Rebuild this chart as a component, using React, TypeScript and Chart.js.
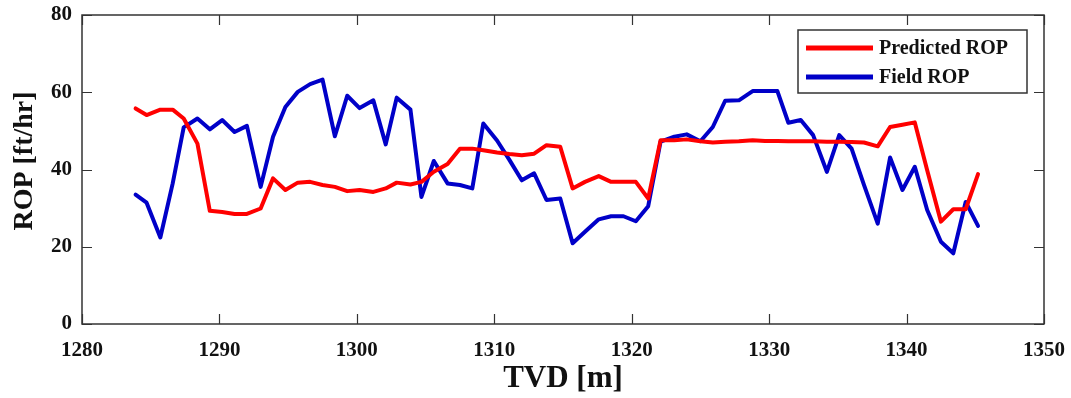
import React, { useEffect, useRef } from "react";
import { Chart, registerables } from "chart.js";

Chart.register(...registerables);

const tvd = [
  1283.9, 1284.7, 1285.7, 1286.6, 1287.4, 1288.4, 1289.3, 1290.2, 1291.1, 1292.0,
  1293.0, 1293.9, 1294.8, 1295.7, 1296.6, 1297.5, 1298.4, 1299.3, 1300.2, 1301.2,
  1302.1, 1302.9, 1303.9, 1304.7, 1305.6, 1306.6, 1307.5, 1308.4, 1309.2, 1310.2,
  1311.1, 1312.0, 1312.9, 1313.8, 1314.8, 1315.7, 1316.6, 1317.6, 1318.5, 1319.4,
  1320.3, 1321.2, 1322.1, 1323.1, 1324.0, 1325.0, 1325.9, 1326.8, 1327.8, 1328.8,
  1329.7, 1330.6, 1331.4, 1332.3, 1333.2, 1334.2, 1335.1, 1336.0, 1336.9, 1337.9,
  1338.8, 1339.7, 1340.6, 1341.5, 1342.5, 1343.4, 1344.3, 1345.2,
];

const predictedROP = [
  55.8, 54.1, 55.5, 55.5, 53.2, 46.7, 29.3, 29.0, 28.5, 28.5,
  29.9, 37.7, 34.7, 36.6, 36.8, 36.0, 35.5, 34.4, 34.7, 34.2,
  35.1, 36.6, 36.1, 36.8, 39.4, 41.4, 45.4, 45.4, 45.0, 44.4,
  44.0, 43.7, 44.1, 46.3, 45.9, 35.1, 36.8, 38.3, 36.8, 36.8,
  36.8, 32.5, 47.6, 47.6, 47.8, 47.3, 47.0, 47.2, 47.3, 47.6,
  47.4, 47.4, 47.3, 47.3, 47.3, 47.2, 47.2, 47.1, 47.0, 46.0,
  51.0, 51.6, 52.2, 39.8, 26.5, 29.7, 29.7, 38.8,
];

const fieldROP = [
  33.5, 31.4, 22.4, 36.4, 50.9, 53.2, 50.4, 52.8, 49.7, 51.3,
  35.5, 48.5, 56.2, 60.1, 62.1, 63.3, 48.6, 59.1, 55.9, 57.9,
  46.5, 58.6, 55.5, 32.9, 42.2, 36.4, 36.0, 35.1, 51.9, 47.5,
  42.5, 37.2, 39.0, 32.1, 32.5, 20.9, 23.9, 27.1, 27.9, 27.9,
  26.6, 30.5, 47.2, 48.5, 49.1, 47.3, 51.0, 57.8, 57.9, 60.3,
  60.3, 60.3, 52.1, 52.8, 48.9, 39.4, 48.9, 45.4, 36.0, 26.0,
  43.1, 34.7, 40.7, 29.5, 21.3, 18.3, 31.6, 25.4,
];

const seriesNames = ["Predicted ROP", "Field ROP"];
const seriesColors = ["#ff0000", "#0000c8"];
const xTicks = [1280, 1290, 1300, 1310, 1320, 1330, 1340, 1350];
const yTicks = [0, 20, 40, 60, 80];
const xTitle = "TVD [m]";
const yTitle = "ROP [ft/hr]";

const FONT = "'Liberation Serif', 'Times New Roman', serif";
const TEXT = "#111111";

const framePlugin = {
  id: "matlabFrame",
  afterDraw(chart: any) {
    const { ctx, chartArea, scales } = chart;
    const { left, right, top, bottom } = chartArea;
    ctx.save();
    ctx.strokeStyle = "#333333";
    ctx.lineWidth = 1.5;
    ctx.strokeRect(left, top, right - left, bottom - top);
    ctx.lineWidth = 1.2;
    const tl = 10;
    ctx.beginPath();
    xTicks.forEach((v) => {
      const px = Math.round(scales.x.getPixelForValue(v)) + 0.5;
      ctx.moveTo(px, bottom);
      ctx.lineTo(px, bottom - tl);
      ctx.moveTo(px, top);
      ctx.lineTo(px, top + tl);
    });
    yTicks.forEach((v) => {
      const py = Math.round(scales.y.getPixelForValue(v)) + 0.5;
      ctx.moveTo(left, py);
      ctx.lineTo(left + tl, py);
      ctx.moveTo(right, py);
      ctx.lineTo(right - tl, py);
    });
    ctx.stroke();

    // y-axis title
    ctx.save();
    ctx.translate(25, 161);
    ctx.rotate(-Math.PI / 2);
    ctx.font = `bold 28px ${FONT}`;
    ctx.fillStyle = TEXT;
    ctx.textAlign = "center";
    ctx.textBaseline = "middle";
    ctx.fillText(yTitle, 0, 0);
    ctx.restore();

    // legend
    const bx = 798, by = 30, bw = 229, bh = 63;
    ctx.fillStyle = "#ffffff";
    ctx.fillRect(bx, by, bw, bh);
    ctx.strokeStyle = "#333333";
    ctx.lineWidth = 1.5;
    ctx.strokeRect(bx, by, bw, bh);
    const rows = [48, 77];
    ctx.font = `bold 20px ${FONT}`;
    ctx.textBaseline = "middle";
    ctx.textAlign = "left";
    seriesNames.forEach((name, i) => {
      ctx.strokeStyle = seriesColors[i];
      ctx.lineWidth = 5;
      ctx.beginPath();
      ctx.moveTo(806, rows[i]);
      ctx.lineTo(873, rows[i]);
      ctx.stroke();
      ctx.fillStyle = TEXT;
      ctx.fillText(name, 879, rows[i] + 1);
    });
    ctx.restore();
  },
};

export default function App() {
  const ref = useRef<HTMLCanvasElement | null>(null);
  useEffect(() => {
    if (!ref.current) return;
    const series = [predictedROP, fieldROP];
    const chart = new Chart(ref.current, {
      type: "line",
      data: {
        datasets: series.map((vals, i) => ({
          label: seriesNames[i],
          data: vals.map((v, j) => ({ x: tvd[j], y: v })),
          borderColor: seriesColors[i],
          backgroundColor: seriesColors[i],
          borderWidth: 4,
          pointRadius: 0,
          tension: 0,
          borderJoinStyle: "round" as const,
          borderCapStyle: "round" as const,
          fill: false,
        })),
      },
      options: {
        animation: false,
        responsive: true,
        maintainAspectRatio: false,
        layout: { padding: { left: 0, top: 15, right: 27, bottom: 0 } },
        plugins: { legend: { display: false }, tooltip: { enabled: false } },
        scales: {
          x: {
            type: "linear",
            min: 1280,
            max: 1350,
            afterFit: (s: any) => {
              s.height = 74;
              s.paddingLeft = 0;
              s.paddingRight = 0;
            },
            afterBuildTicks: (s: any) => { s.ticks = xTicks.map((v) => ({ value: v })); },
            grid: { display: false, drawTicks: false },
            border: { display: false },
            ticks: {
              padding: 14,
              color: TEXT,
              font: { family: FONT, size: 21, weight: "bold" },
              maxRotation: 0,
              callback: (v: any) => String(v),
            },
            title: {
              display: true,
              text: xTitle,
              color: TEXT,
              font: { family: FONT, size: 31, weight: "bold" },
              padding: { top: 0, bottom: 0 },
            },
          },
          y: {
            type: "linear",
            min: 0,
            max: 80,
            afterFit: (s: any) => {
              s.width = 82;
              s.paddingTop = 0;
              s.paddingBottom = 0;
            },
            afterBuildTicks: (s: any) => { s.ticks = yTicks.map((v) => ({ value: v })); },
            grid: { display: false, drawTicks: false },
            border: { display: false },
            ticks: {
              padding: 10,
              color: TEXT,
              font: { family: FONT, size: 21, weight: "bold" },
              callback: (v: any) => String(v),
            },
            title: { display: false },
          },
        },
      },
      plugins: [framePlugin],
    });
    return () => chart.destroy();
  }, []);

  return (
    <div style={{ position: "absolute", left: 0, top: 0, width: 1071, height: 398, background: "#fff" }}>
      <canvas ref={ref} />
    </div>
  );
}
